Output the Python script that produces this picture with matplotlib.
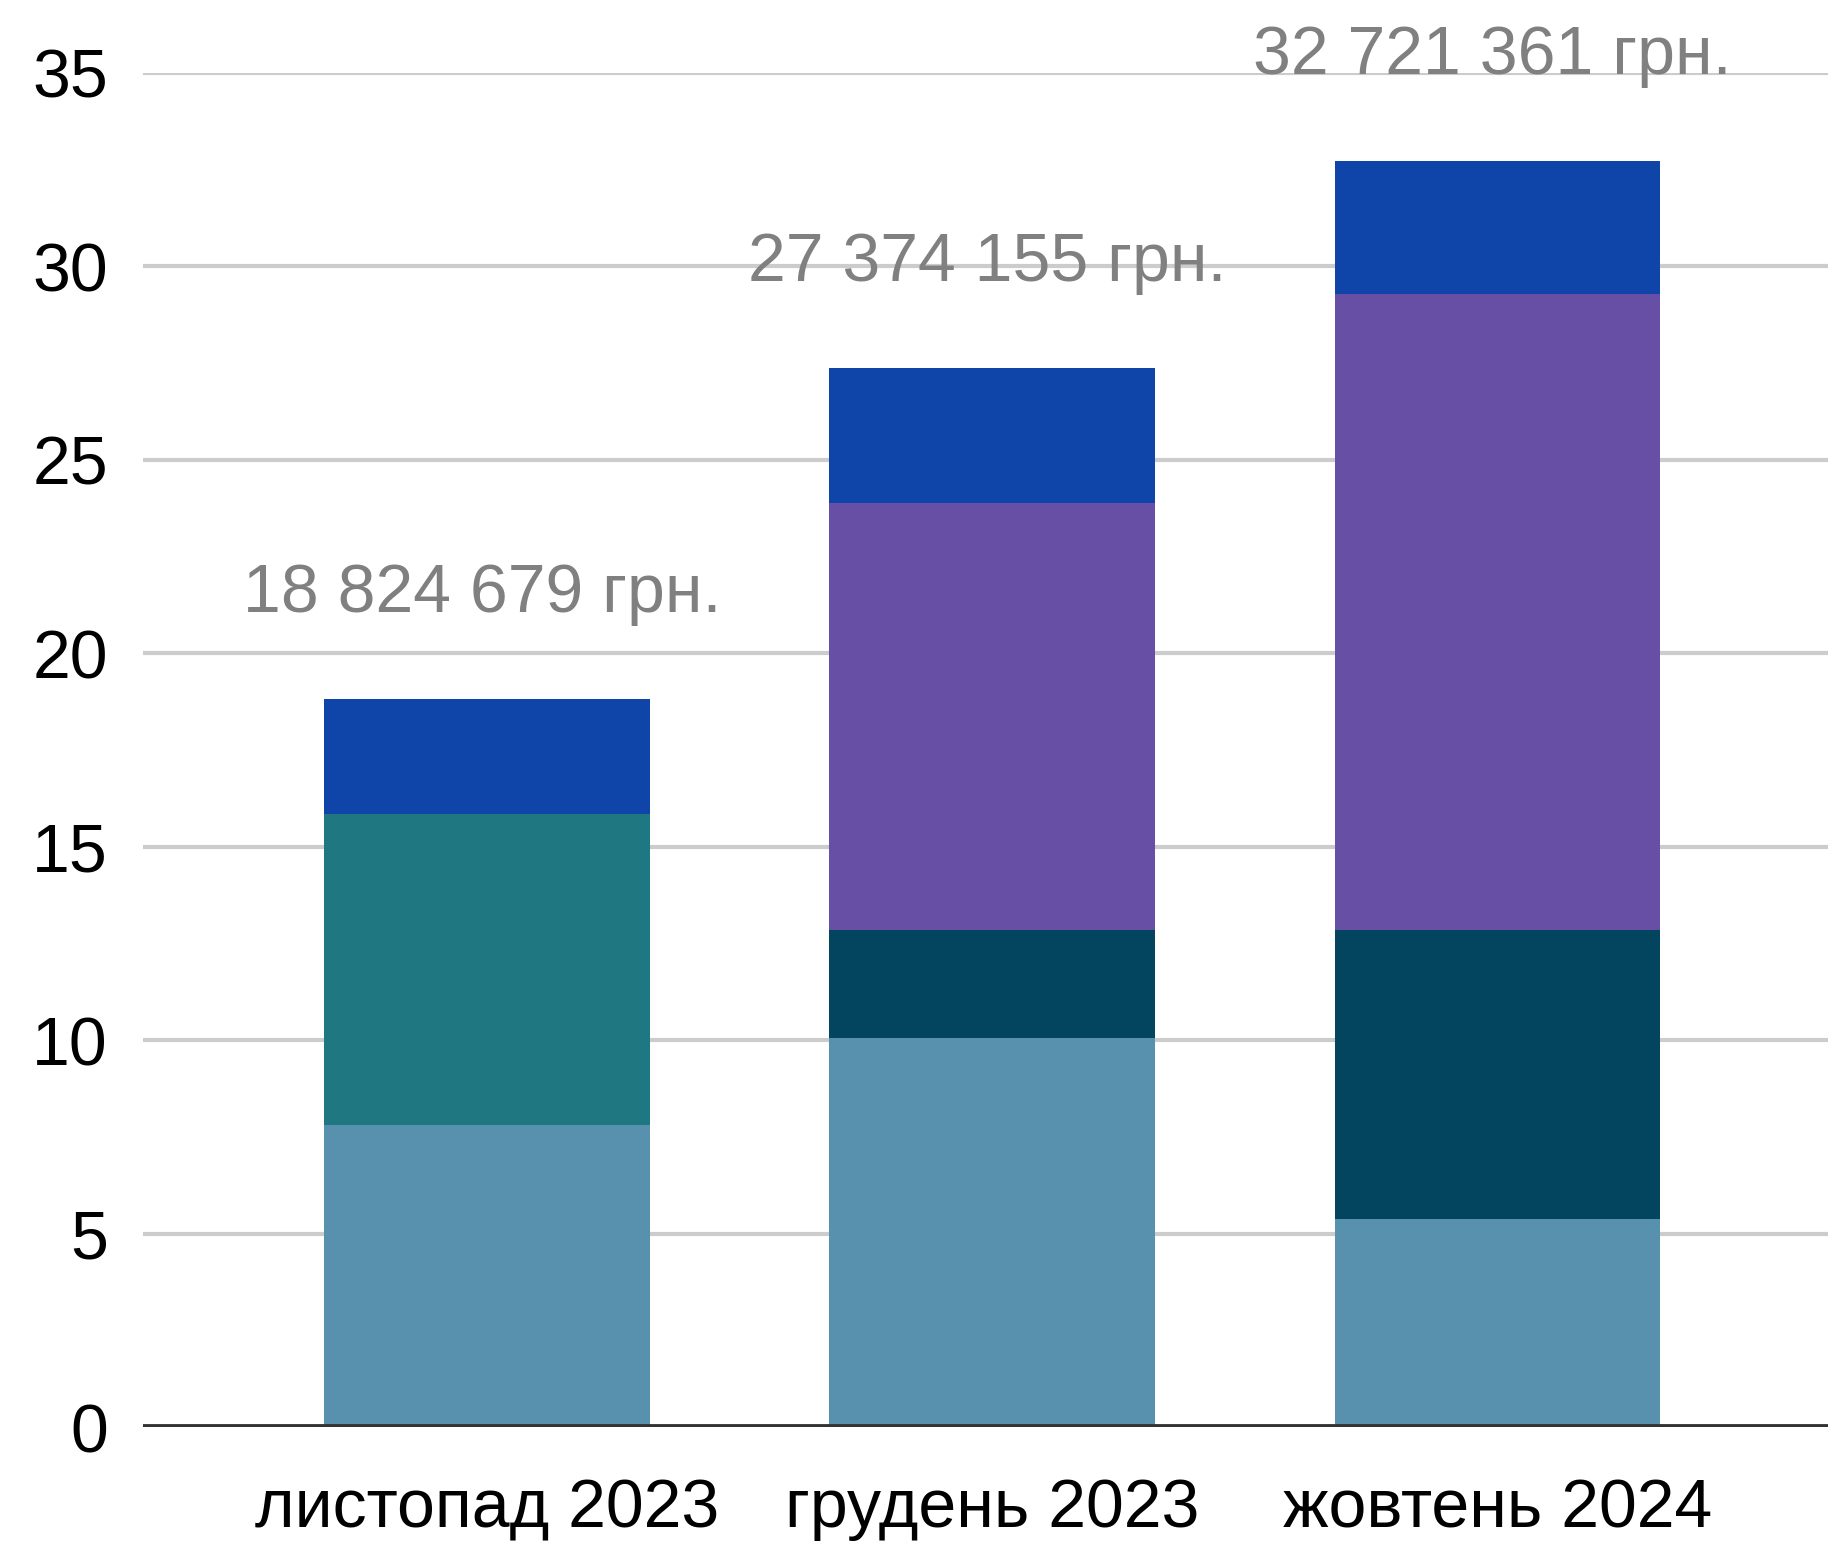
import matplotlib
matplotlib.use("Agg")
import matplotlib.pyplot as plt
import numpy as np

plt.rcParams['font.family'] = ['Liberation Sans', 'DejaVu Sans']

# дані (млн грн.)
months = ['листопад 2023', 'грудень 2023', 'жовтень 2024']
light = [7.80, 10.06, 5.39]
teal = [8.04, 0.0, 0.0]
dark_teal = [0.0, 2.80, 7.47]
purple = [0.0, 11.03, 16.42]
blue = [2.98, 3.48, 3.44]
totals = [18.824679, 27.374155, 32.721361]
total_labels = ['18 824 679 грн.', '27 374 155 грн.', '32 721 361 грн.']

series = [light, teal, dark_teal, purple, blue]
colors = ['#5891ad', '#1f7782', '#03455f', '#684fa6', '#0f44a8']

fig = plt.figure(figsize=(18.28, 15.44), dpi=100)
ax = fig.add_axes([0.078, 0.0755, 0.922, 0.8775])

x = np.arange(len(months))
bottom = np.zeros(len(months))
for vals, c in zip(series, colors):
    ax.bar(x, vals, width=0.644, bottom=bottom, color=c, zorder=3)
    bottom += np.array(vals)

for xi, t, lab in zip(x, totals, total_labels):
    ax.text(xi - 0.01, t + 2.25, lab, ha='center', va='baseline',
            fontsize=49, color='#808080', zorder=4, clip_on=False)

ax.set_ylim(0, 35)
ax.set_xlim(-0.682, 2.655)
ax.set_yticks([0, 5, 10, 15, 20, 25, 30, 35])
ax.set_xticks(x)
ax.set_xticklabels(months)
ax.grid(axis='y', color='#cccccc', linewidth=3.0, zorder=0)
ax.axhline(0, color='#333333', linewidth=4.2, zorder=5)
for s in ax.spines.values():
    s.set_visible(False)
ax.tick_params(axis='both', length=0, labelsize=49, colors='#000000')
ax.tick_params(axis='y', pad=25)
ax.tick_params(axis='x', pad=36)

fig.savefig('out.png', dpi=100)
